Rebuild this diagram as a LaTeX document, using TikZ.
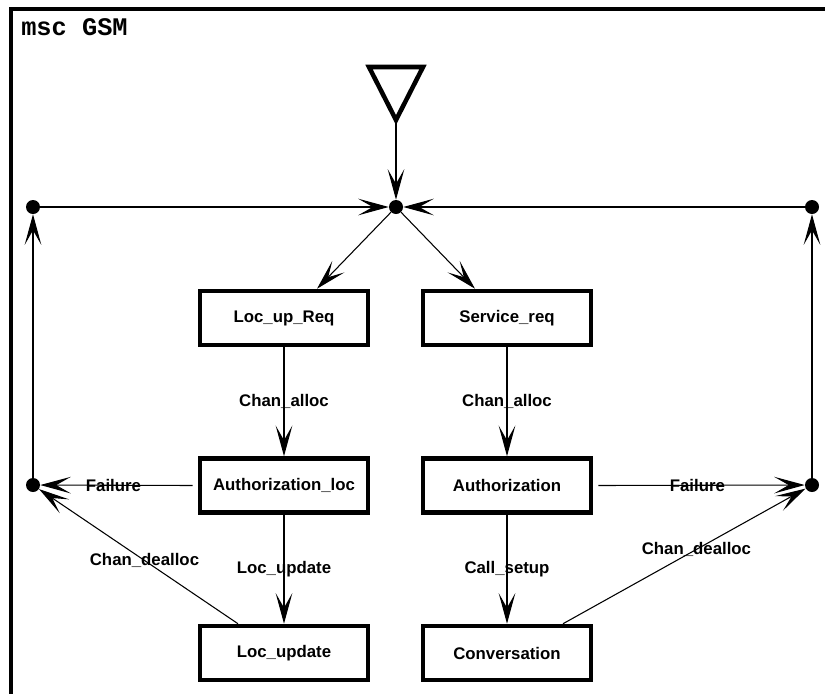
\documentclass[tikz,border=0pt]{standalone}
\usepackage{fontspec}
\setmainfont{Liberation Sans}
\setmonofont{Liberation Mono}
\usetikzlibrary{arrows.meta}
\begin{document}
\begin{tikzpicture}[x=0.75pt,y=-0.75pt,
  proc/.style={draw,line width=3.4pt,minimum width=126pt,minimum height=40.5pt,inner sep=0pt,font=\bfseries\fontsize{12.6}{14}\selectfont},
  dot/.style={circle,fill,inner sep=0pt,minimum size=10.5pt},
  lbl/.style={font=\bfseries\fontsize{12.6}{14}\selectfont,inner sep=0pt},
  arr/.style={line width=0.8pt,-{Stealth[length=23pt,width=12.5pt,inset=11pt]}},
  ln/.style={line width=0.8pt}]
\useasboundingbox (0,0) rectangle (825,693);
% outer frame
\draw[line width=3.4pt] (11,700) -- (11,9) -- (830,9);
\node[anchor=base west,font=\ttfamily\bfseries\fontsize{19}{22}\selectfont,inner sep=0pt] (title) at (21,35) {msc GSM};
% start symbol
\draw[line width=3.4pt,line join=miter] (369,67) -- (423,67) -- (396,120) -- cycle;
\coordinate (start) at (396,122);
% connection points
\node[dot] (hub) at (396,207) {};
\node[dot] (tl) at (33,207) {};
\node[dot] (tr) at (812,207) {};
\node[dot] (bl) at (33,485) {};
\node[dot] (br) at (812,485) {};
% processes
\node[proc] (lur) at (284,318) {Loc\_up\_Req};
\node[proc] (sr) at (507,318) {Service\_req};
\node[proc] (al) at (284,485.5) {Authorization\_loc};
\node[proc] (au) at (507,485.5) {Authorization};
\node[proc] (lu) at (284,653) {Loc\_update};
\node[proc] (cv) at (507,653) {Conversation};
% connectors
\draw[arr] (start) -- (hub);
\draw[arr] (tl) -- (hub);
\draw[arr] (tr) -- (hub);
\draw[arr] (hub) -- ([xshift=33*0.75pt]lur.north);
\draw[arr] (hub) -- ([xshift=-32*0.75pt]sr.north);
\draw[arr] (lur) -- node[lbl] {Chan\_alloc} (al);
\draw[arr] (sr) -- node[lbl] {Chan\_alloc} (au);
\draw[arr] (al) -- node[lbl] {Loc\_update} (lu);
\draw[arr] (au) -- node[lbl] {Call\_setup} (cv);
\draw[arr] ([xshift=-5*0.75pt]al.west) -- node[lbl,pos=0.52] {Failure} (bl);
\draw[arr] ([xshift=5*0.75pt]au.east) -- node[lbl,pos=0.48] {Failure} (br);
\draw[arr] ([xshift=-46*0.75pt]lu.north) -- node[lbl,pos=0.47] {Chan\_dealloc} (bl);
\draw[arr] ([xshift=56*0.75pt]cv.north) -- node[lbl,pos=0.55] {Chan\_dealloc} (br);
\draw[arr] (bl) -- (tl);
\draw[arr] (br) -- (tr);
\end{tikzpicture}
\end{document}
